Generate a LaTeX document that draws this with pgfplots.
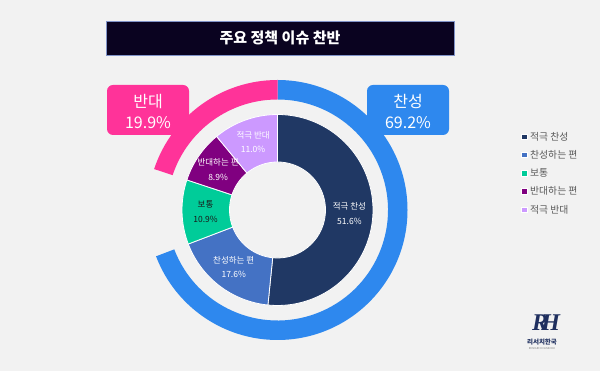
\documentclass[border=0pt]{standalone}
\usepackage{fontspec}
\setmainfont{Noto Sans CJK KR}
\newfontfamily\logofont{Liberation Serif}
\usepackage{pgfplots}
\usepackage{pgfplotstable}
\pgfplotsset{compat=1.18}

\definecolor{bgc}{HTML}{F2F2F2}
\definecolor{c0}{HTML}{203864}
\definecolor{c1}{HTML}{4472C4}
\definecolor{c2}{HTML}{00CC99}
\definecolor{c3}{HTML}{800080}
\definecolor{c4}{HTML}{CC99FF}
\colorlet{t0}{white}
\colorlet{t1}{white}
\definecolor{t2}{HTML}{1A1A1A}
\colorlet{t3}{white}
\colorlet{t4}{white}
\definecolor{oc0}{HTML}{2E88EE}
\definecolor{oc2}{HTML}{FF3399}
\definecolor{titlebg}{HTML}{0A0320}
\definecolor{titlebd}{HTML}{8093C8}
\definecolor{legtxt}{HTML}{595959}
\definecolor{logoc}{HTML}{1F2F5F}

\pgfplotstableread[col sep=comma]{
label,value
적극 찬성,51.6
찬성하는 편,17.6
보통,10.9
반대하는 편,8.9
적극 반대,11.0
}\innerdata

\pgfplotstableread[col sep=comma]{
label,value
찬성,69.2
보통,10.9
반대,19.9
}\outerdata

\newcommand\computeangles[2]{%
  \pgfplotstablegetrowsof{#1}%
  \pgfmathtruncatemacro\lastrow{\pgfplotsretval-1}%
  \gdef\cumsum{0}%
  \foreach \i in {0,...,\lastrow}{%
    \pgfplotstablegetelem{\i}{value}\of{#1}%
    \let\curval\pgfplotsretval
    \pgfmathsetmacro\sa{90-\cumsum*3.6}%
    \pgfmathsetmacro\newcum{\cumsum+\curval}%
    \pgfmathsetmacro\ea{90-\newcum*3.6}%
    \pgfmathsetmacro\ma{(\sa+\ea)/2}%
    \expandafter\xdef\csname #2s\i\endcsname{\sa}%
    \expandafter\xdef\csname #2e\i\endcsname{\ea}%
    \expandafter\xdef\csname #2m\i\endcsname{\ma}%
    \expandafter\xdef\csname #2v\i\endcsname{\curval}%
    \pgfplotstablegetelem{\i}{label}\of{#1}%
    \expandafter\xdef\csname #2l\i\endcsname{\pgfplotsretval}%
    \xdef\cumsum{\newcum}%
  }}

\newcommand\ringslice[5]{%
  \fill[#1] (axis cs:{#5*cos(#2)},{#5*sin(#2)}) arc[start angle=#2,end angle=#3,radius=#5pt]
    -- (axis cs:{#4*cos(#3)},{#4*sin(#3)}) arc[start angle=#3,end angle=#2,radius=#4pt] -- cycle;}

\begin{document}%
\begin{tikzpicture}
\computeangles{\innerdata}{in}
\computeangles{\outerdata}{out}
\begin{axis}[
  width=600pt, height=371pt, scale only axis,
  xmin=-277.5, xmax=322.5, ymin=-161, ymax=210,
  hide axis, clip=false,
]
\fill[bgc] (rel axis cs:0,0) rectangle (rel axis cs:1,1);

% title
\draw[fill=titlebg, draw=titlebd, line width=0.8pt] (axis cs:-171.5,189) rectangle (axis cs:176.5,155);
\node[text=white, font=\fontsize{15}{18}\selectfont\bfseries] at (axis cs:2.5,172) {주요 정책 이슈 찬반};

% outer ring
\ringslice{fill=oc0}{\csname outs0\endcsname}{\csname oute0\endcsname}{110.5}{130}
\ringslice{fill=oc2}{\csname outs2\endcsname}{\csname oute2\endcsname}{110.5}{130}

% inner donut
\pgfplotsinvokeforeach{0,...,4}{
  \ringslice{fill=c#1,draw=white,line width=0.8pt}{\csname ins#1\endcsname}{\csname ine#1\endcsname}{48}{95.5}
}
\pgfplotsinvokeforeach{0,...,4}{
  \node[text=t#1, align=center, font=\fontsize{8.5}{14.5}\selectfont]
    at (axis cs:{72*cos(\csname inm#1\endcsname)},{72*sin(\csname inm#1\endcsname)})
    {\csname inl#1\endcsname\\\csname inv#1\endcsname\%};
}

% callouts
\fill[oc2, rounded corners=6pt] (axis cs:-170.5,125) rectangle (axis cs:-88.5,75);
\node[text=white, align=center, font=\fontsize{16}{21}\selectfont] at (axis cs:-129.5,98.5)
  {\csname outl2\endcsname\\\csname outv2\endcsname\%};
\fill[oc0, rounded corners=6pt] (axis cs:89.5,125) rectangle (axis cs:171.5,75);
\node[text=white, align=center, font=\fontsize{16}{21}\selectfont] at (axis cs:130.5,98.5)
  {\csname outl0\endcsname\\\csname outv0\endcsname\%};

% legend
\pgfplotsinvokeforeach{0,...,4}{
  \fill[c#1, draw=white, line width=0.4pt] (axis cs:{246.5-2.75},{210-(136.7+18.2*#1)-2.75}) rectangle ++(5.5pt,5.5pt);
  \node[anchor=west, text=legtxt, font=\fontsize{9.8}{11}\selectfont, inner sep=0pt]
    at (axis cs:{252.5},{210-(136.7+18.2*#1)}) {\csname inl#1\endcsname};
}

% logo
\node[text=logoc, font=\logofont\fontsize{24}{24}\selectfont\itshape\bfseries] at (axis cs:268.5,-113) {R\kern-0.28em H};
\node[text=logoc, font=\fontsize{6.5}{7}\selectfont\bfseries] at (axis cs:264.5,-132) {리서치한국};
\node[text=gray, font=\fontsize{2.6}{3}\selectfont] at (axis cs:264.5,-139) {RESEARCH HANKOOK};
\end{axis}
\end{tikzpicture}%
\end{document}
